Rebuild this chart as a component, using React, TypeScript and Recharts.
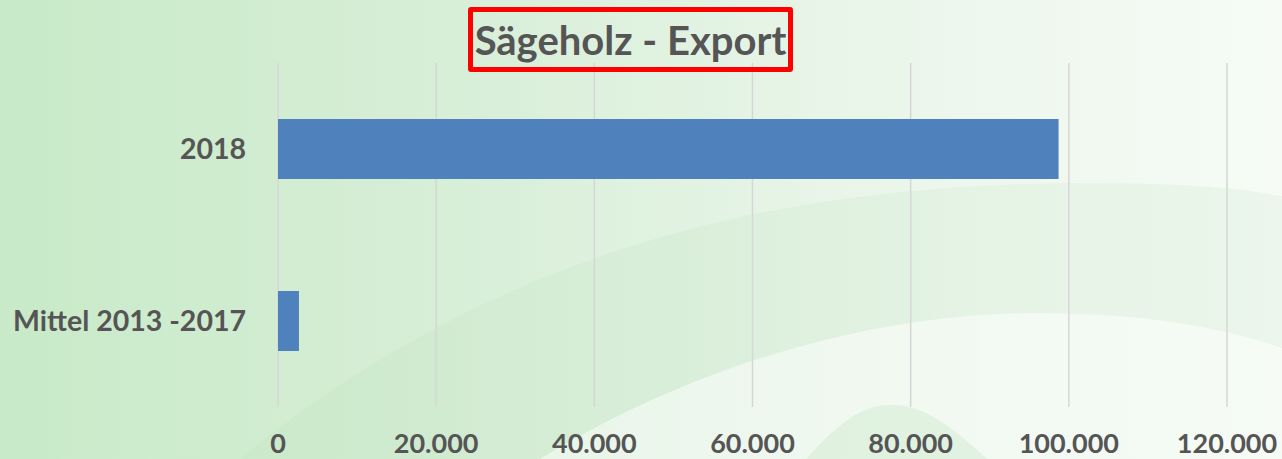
import React from 'react';
import { BarChart, Bar, XAxis, YAxis, CartesianGrid } from 'recharts';

// Values
const categories = ['2018', 'Mittel 2013 -2017'];
const exportValues = [98700, 2650];
const xTicks = [0, 20000, 40000, 60000, 80000, 100000, 120000];

const TEXT = '#555555';
const FONT = 'Lato, "Open Sans", sans-serif';

const data = categories.map((name, i) => ({ name, value: exportValues[i] }));

const fmt = (v: number) => String(v).replace(/\B(?=(\d{3})+(?!\d))/g, '.');

function Background() {
  return (
    <svg width={1282} height={459} style={{ position: 'absolute', left: 0, top: 0 }}>
      <defs>
        <linearGradient id="bg" x1="0" y1="0" x2="1" y2="0">
          <stop offset="0" stopColor="#c8eac8" />
          <stop offset="0.35" stopColor="#d7eed7" />
          <stop offset="0.7" stopColor="#ebf6eb" />
          <stop offset="1" stopColor="#f6fbf6" />
        </linearGradient>
      </defs>
      <rect width={1282} height={459} fill="url(#bg)" />
      <path
        d="M 240 459 C 520 230 820 183 1090 183 C 1180 183 1240 188 1282 196 L 1282 459 Z"
        fill="rgba(170,215,170,0.13)"
      />
      <path
        d="M 540 459 C 720 350 900 313 1040 313 C 1150 313 1230 330 1282 348 L 1282 459 Z"
        fill="rgba(255,255,255,0.5)"
      />
      <path
        d="M 806 459 C 850 410 870 405 894 405 C 918 405 945 420 987 459 Z"
        fill="rgba(190,225,190,0.3)"
      />
    </svg>
  );
}

export default function App() {
  return (
    <div style={{ position: 'absolute', left: 0, top: 0, width: 1282, height: 459, overflow: 'hidden' }}>
      <Background />
      <div style={{ position: 'absolute', left: 0, top: 0 }}>
        <BarChart
          width={1282}
          height={459}
          data={data}
          layout="vertical"
          margin={{ top: 63, right: 55, left: 0, bottom: 0 }}
        >
          <CartesianGrid horizontal={false} stroke="#d6d6d6" strokeWidth={1.5} />
          <XAxis
            type="number"
            domain={[0, 120000]}
            ticks={xTicks}
            tickFormatter={fmt}
            axisLine={false}
            tickLine={false}
            tickSize={0}
            tickMargin={27}
            height={52}
            interval={0}
            tick={{ fontSize: 27, fontWeight: 700, fill: TEXT, fontFamily: FONT }}
          />
          <YAxis
            type="category"
            dataKey="name"
            width={278}
            axisLine={false}
            tickLine={false}
            tickSize={0}
            tickMargin={32}
            tick={{ fontSize: 28.5, fontWeight: 700, fill: TEXT, fontFamily: FONT }}
          />
          <Bar dataKey="value" fill="#4f81bd" barSize={60} isAnimationActive={false} />
        </BarChart>
      </div>
      <div
        style={{
          position: 'absolute',
          left: 468,
          top: 7,
          width: 325,
          height: 65,
          boxSizing: 'border-box',
          border: '5px solid #ff0000',
          borderRadius: 3,
          display: 'flex',
          alignItems: 'center',
          justifyContent: 'center',
          fontFamily: FONT,
          fontWeight: 700,
          fontSize: 40,
          color: TEXT,
          lineHeight: 1,
        }}
      >
        Sägeholz - Export
      </div>
    </div>
  );
}
